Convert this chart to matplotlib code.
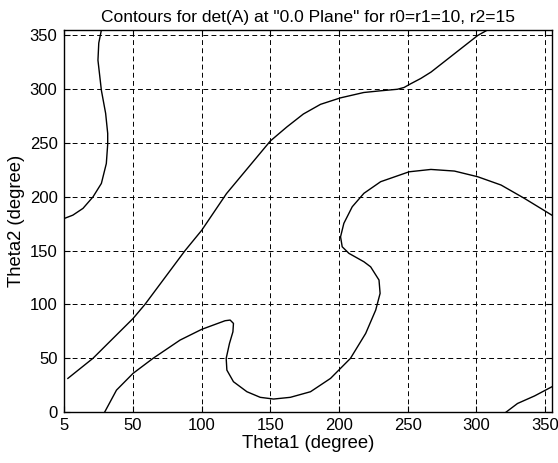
import matplotlib
matplotlib.use("Agg")
from matplotlib import pyplot as plt

plt.rcParams['font.family'] = ['Liberation Sans', 'DejaVu Sans']

# contour lines of det(A) = 0 (theta1, theta2 in degrees)
left_x = [26.9, 25.0, 24.4, 26.9, 30.0, 31.5, 31.5, 30.5, 26.9, 20.8, 13.5, 6.1, 0.0]
left_y = [355, 343, 327, 299, 277.6, 259, 249, 231, 212.5, 200, 189.3, 183, 180]

diag_x = [2.5, 20.8, 50.0, 58.6, 87.8, 100.0, 118.0, 148.7, 150.0, 162.0, 174.0, 186.5,
          201.0, 218.0, 230.3, 242.5, 247.4, 252.0, 259.6, 267.0, 276.6, 284.0, 293.7,
          301.0, 308.0]
diag_y = [31.3, 50, 87, 100, 150, 169, 203, 250, 252, 265, 277, 286,
          292, 297, 298.6, 300, 301.7, 305, 310.1, 316, 325.6, 333, 342.7,
          350, 355]

loop_x = [29.3, 37.9, 50.0, 64.6, 84.2, 100.0, 108.5, 117.0, 120.7, 123.1, 122.7, 120.2,
          117.8, 118.3, 123.1, 132.9, 142.6, 152.3, 164.5, 179.2, 193.8, 208.3, 219.4,
          226.7, 229.9, 229.1, 223.0, 218.1, 207.2, 202.3, 201.1, 203.5, 209.6, 218.1,
          230.3, 251.0, 266.9, 284.0, 301.0, 318.0, 335.0, 355.0]
loop_y = [0, 20.4, 36, 50, 66.9, 76.9, 80.9, 84.9, 85.5, 82.4, 74.6, 63.8,
          49.9, 39, 28.2, 18.9, 13.7, 12.1, 13.7, 18.9, 31.3, 49.9, 73.1,
          94.8, 110.3, 122.7, 135, 139.7, 147.5, 153.6, 162.9, 175.4, 190.8, 203.3,
          214.1, 223.3, 225.5, 224, 218.7, 211, 198.6, 183]

corner_x = [321.7, 330.0, 342.4, 355.0]
corner_y = [0, 8, 15, 23.5]

xticks = [0, 50, 100, 150, 200, 250, 300, 350]
xlabels = ['5', '50', '100', '150', '200', '250', '300', '350']
yticks = [0, 50, 100, 150, 200, 250, 300, 350]

fig = plt.figure(figsize=(5.58, 4.63), dpi=100)
ax = fig.add_axes([0.1155, 0.110, 0.8735, 0.825])

for xs, ys in [(left_x, left_y), (diag_x, diag_y), (loop_x, loop_y), (corner_x, corner_y)]:
    ax.plot(xs, ys, color='k', lw=1.0)

ax.set_xlim(0, 355)
ax.set_ylim(0, 355)
ax.set_xticks(xticks)
ax.set_xticklabels(xlabels)
ax.set_yticks(yticks)
ax.tick_params(direction='in', length=4, top=True, right=True, labelsize=12)
ax.tick_params(axis='y', pad=5)
ax.tick_params(axis='x', pad=4)
ax.grid(True, color='k', linestyle=(0, (5, 3.4)), linewidth=0.7)
for s in ax.spines.values():
    s.set_linewidth(1.0)

ax.set_title('Contours for det(A) at "0.0 Plane" for r0=r1=10, r2=15', fontsize=12.5, pad=6)
ax.set_xlabel('Theta1 (degree)', fontsize=13.3, labelpad=2)
ax.set_ylabel('Theta2 (degree)', fontsize=13.3, labelpad=3)

fig.savefig('out.png', dpi=100)
